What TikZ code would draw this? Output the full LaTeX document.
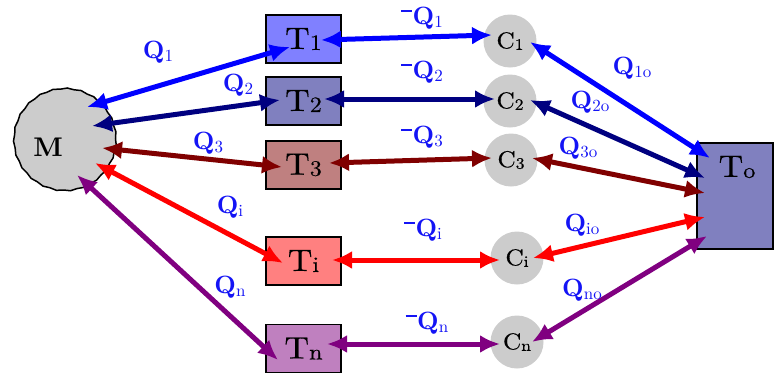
\documentclass[tikz,border=0pt]{standalone}
\usepackage{fontspec}
\setmainfont{lmroman10-regular}[Extension=.otf, BoldFont=lmroman10-bold]
\newfontfamily\heavyrm{lmroman10-regular}[Extension=.otf, FakeBold=0.4, FakeStretch=1.1]
\usetikzlibrary{arrows.meta,decorations.pathmorphing}
\definecolor{cA}{RGB}{0,0,255}
\definecolor{cB}{RGB}{0,0,128}
\definecolor{cC}{RGB}{128,0,0}
\definecolor{cD}{RGB}{255,0,0}
\definecolor{cE}{RGB}{128,0,128}
\definecolor{lblcol}{RGB}{20,20,245}
\newcommand{\qsub}[1]{\raisebox{-3pt}{\mdseries\fontsize{17}{17}\selectfont #1}}
\newcommand{\tsub}[1]{\raisebox{-1pt}{\fontsize{22}{22}\selectfont #1}}
\newcommand{\csub}[1]{\raisebox{-1.5pt}{\fontsize{16}{16}\selectfont #1}}
\newcommand{\negq}{\rule[12pt]{11pt}{2pt}\kern0.5pt}
\begin{document}
\begin{tikzpicture}[x=1pt,y=-1pt,
  tbox/.style={draw=black, line width=1.6pt, minimum width=75pt, minimum height=48pt, inner sep=0pt, font=\heavyrm\fontsize{31}{32}\selectfont},
  cnode/.style={circle, fill=gray!40, minimum size=53pt, inner sep=0pt, font=\heavyrm\fontsize{23}{24}\selectfont},
  qlbl/.style={text=lblcol, inner sep=0pt, font=\bfseries\fontsize{25}{26}\selectfont},
  conn/.style={line width=5pt, {Latex[length=20pt,width=18pt]}-{Latex[length=20pt,width=18pt]}}
]
\useasboundingbox (0,0) rectangle (775,375);
% M
\node[circle, minimum size=102pt, draw=black, line width=1.5pt, fill=gray!40,
  decorate, decoration={snake, amplitude=0.5pt, segment length=14pt}] (M) at (65,143) {};
\node[inner sep=0pt, font=\bfseries\fontsize{27}{28}\selectfont] (Mlbl) at (48,147) {M};
% T boxes
\node[tbox, fill=cA!50] (T1) at (303.5,39) {T\tsub{1}};
\node[tbox, fill=cB!50] (T2) at (303.5,101) {T\tsub{2}};
\node[tbox, fill=cC!50] (T3) at (303.5,165) {T\tsub{3}};
\node[tbox, fill=cD!50] (Ti) at (303.5,261) {T\tsub{i}};
\node[tbox, fill=cE!50] (Tn) at (303.5,348.5) {T\tsub{n}};
% C circles
\node[cnode] (C1) at (510,41) {C\csub{1}};
\node[cnode] (C2) at (510,101) {C\csub{2}};
\node[cnode] (C3) at (511,160) {C\csub{3}};
\node[cnode] (Ci) at (517,258) {C\csub{i}};
\node[cnode] (Cn) at (517,342) {C\csub{n}};
% To
\node[draw=black, line width=1.6pt, fill=cB!50, minimum width=76pt, minimum height=106pt, inner sep=0pt] (To) at (735,196) {};
\node[inner sep=0pt, font=\heavyrm\fontsize{31}{32}\selectfont] (Tolbl) at (737,167) {T\tsub{o}};
% endpoints
\coordinate (m1) at (87,107);  \coordinate (t1a) at (290,47);
\coordinate (m2) at (92,126);  \coordinate (t2a) at (280,100);
\coordinate (m3) at (102,148); \coordinate (t3a) at (282,167);
\coordinate (mi) at (95,163);  \coordinate (tia) at (283,263);
\coordinate (mn) at (77,175);  \coordinate (tna) at (278,360);
\coordinate (t1b) at (321,40); \coordinate (c1a) at (492,35);
\coordinate (t2b) at (324,99); \coordinate (c2a) at (495,99);
\coordinate (t3b) at (329,163); \coordinate (c3a) at (492,158);
\coordinate (tib) at (332,260); \coordinate (cia) at (500,260);
\coordinate (tnb) at (327,344); \coordinate (cna) at (500,344);
\coordinate (c1b) at (530,42); \coordinate (o1) at (710,158);
\coordinate (c2b) at (530,100); \coordinate (o2) at (705,178);
\coordinate (c3b) at (532,158); \coordinate (o3) at (705,193);
\coordinate (cib) at (533,258); \coordinate (oi) at (705,217);
\coordinate (cnb) at (532,342); \coordinate (on) at (707,236);
% connectors
\draw[conn, cA] (m1) -- (t1a);
\draw[conn, cB] (m2) -- (t2a);
\draw[conn, cC] (m3) -- (t3a);
\draw[conn, cD] (mi) -- (tia);
\draw[conn, cE] (mn) -- (tna);
\draw[conn, cA] (t1b) -- (c1a);
\draw[conn, cB] (t2b) -- (c2a);
\draw[conn, cC] (t3b) -- (c3a);
\draw[conn, cD] (tib) -- (cia);
\draw[conn, cE] (tnb) -- (cna);
\draw[conn, cA] (c1b) -- (o1);
\draw[conn, cB] (c2b) -- (o2);
\draw[conn, cC] (c3b) -- (o3);
\draw[conn, cD] (cib) -- (oi);
\draw[conn, cE] (cnb) -- (on);
% labels
\node[qlbl] (q1) at (158,52) {Q\qsub{1}};
\node[qlbl] (q2) at (238,85) {Q\qsub{2}};
\node[qlbl] (q3) at (208,143) {Q\qsub{3}};
\node[qlbl] (qi) at (230,207) {Q\qsub{i}};
\node[qlbl] (qn) at (230,287) {Q\qsub{n}};
\node[qlbl] (nq1) at (422,18) {\negq Q\qsub{1}};
\node[qlbl] (nq2) at (422,72) {\negq Q\qsub{2}};
\node[qlbl] (nq3) at (422,137) {\negq Q\qsub{3}};
\node[qlbl] (nqi) at (423,230) {\negq Q\qsub{i}};
\node[qlbl] (nqn) at (427,323) {\negq Q\qsub{n}};
\node[qlbl] (q1o) at (632,68) {Q\qsub{1o}};
\node[qlbl] (q2o) at (590,102) {Q\qsub{2o}};
\node[qlbl] (q3o) at (578,148) {Q\qsub{3o}};
\node[qlbl] (qio) at (582,225) {Q\qsub{io}};
\node[qlbl] (qno) at (582,290) {Q\qsub{no}};
\end{tikzpicture}
\end{document}
